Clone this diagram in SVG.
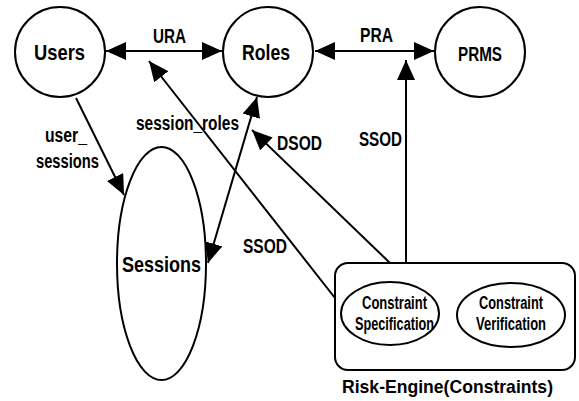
<svg xmlns="http://www.w3.org/2000/svg" width="579" height="401" viewBox="0 0 579 401">
<style>
.n{fill:#fff;stroke:#000;stroke-width:2}
.c{fill:none;stroke:#000;stroke-width:2}
text{font-family:"Liberation Sans",Arial,sans-serif;font-weight:bold;fill:#000}
.big{font-size:22px}
.lb{font-size:20px}
.sm{font-size:18px}
.rk{font-size:19px}
</style>
<defs>
<marker id="ah" markerUnits="userSpaceOnUse" markerWidth="22" markerHeight="20" refX="20" refY="9" orient="auto-start-reverse" viewBox="0 0 22 20">
<path d="M0,0 L20,9 L0,18 z" fill="#000"/>
</marker>
</defs>
<rect width="579" height="401" fill="#fff"/>
<g id="users"><circle class="n" cx="60" cy="52" r="45"/><text class="big" x="34" y="60" textLength="51" lengthAdjust="spacingAndGlyphs">Users</text></g>
<g id="roles"><circle class="n" cx="268" cy="52" r="45"/><text class="big" x="242" y="60" textLength="48" lengthAdjust="spacingAndGlyphs">Roles</text></g>
<g id="prms"><circle class="n" cx="480" cy="52" r="45"/><text class="lb" x="458" y="61" textLength="44" lengthAdjust="spacingAndGlyphs">PRMS</text></g>
<g id="sessions"><ellipse class="n" cx="161.5" cy="263.5" rx="44.5" ry="116.5"/><text class="big" x="122" y="272" textLength="79" lengthAdjust="spacingAndGlyphs">Sessions</text></g>
<g id="risk-engine">
<rect class="n" x="335" y="263" width="240" height="107" rx="13"/>
<ellipse class="n" cx="390" cy="313.5" rx="49" ry="31.5"/>
<ellipse class="n" cx="511" cy="315" rx="54" ry="32"/>
<text class="sm" x="362" y="309" textLength="65" lengthAdjust="spacingAndGlyphs">Constraint</text>
<text class="sm" x="355" y="330" textLength="79" lengthAdjust="spacingAndGlyphs">Specification</text>
<text class="sm" x="479" y="309" textLength="64" lengthAdjust="spacingAndGlyphs">Constraint</text>
<text class="sm" x="476" y="330" textLength="70" lengthAdjust="spacingAndGlyphs">Verification</text>
<text class="rk" x="342" y="393" textLength="211" lengthAdjust="spacingAndGlyphs">Risk-Engine(Constraints)</text>
</g>
<g id="connectors">
<line class="c" x1="106" y1="51" x2="222" y2="51" marker-start="url(#ah)" marker-end="url(#ah)"/>
<line class="c" x1="315" y1="51" x2="434" y2="51" marker-start="url(#ah)" marker-end="url(#ah)"/>
<line class="c" x1="76" y1="98" x2="124" y2="195" marker-end="url(#ah)"/>
<line class="c" x1="257" y1="97" x2="208" y2="263" marker-start="url(#ah)" marker-end="url(#ah)"/>
<line class="c" x1="335" y1="298" x2="149" y2="61" marker-end="url(#ah)"/>
<line class="c" x1="390" y1="263" x2="252" y2="130" marker-end="url(#ah)"/>
<line class="c" x1="406" y1="263" x2="406" y2="60" marker-end="url(#ah)"/>
<text class="lb" x="153" y="43" textLength="33" lengthAdjust="spacingAndGlyphs">URA</text>
<text class="lb" x="360" y="42" textLength="33" lengthAdjust="spacingAndGlyphs">PRA</text>
<text class="lb" x="45" y="142" textLength="42" lengthAdjust="spacingAndGlyphs">user_</text>
<text class="lb" x="36" y="168" textLength="63" lengthAdjust="spacingAndGlyphs">sessions</text>
<text class="lb" x="136" y="130" textLength="103" lengthAdjust="spacingAndGlyphs">session_roles</text>
<text class="lb" x="277" y="150" textLength="45" lengthAdjust="spacingAndGlyphs">DSOD</text>
<text class="lb" x="359" y="146" textLength="43" lengthAdjust="spacingAndGlyphs">SSOD</text>
<text class="lb" x="243" y="253" textLength="44" lengthAdjust="spacingAndGlyphs">SSOD</text>
</g>
</svg>
